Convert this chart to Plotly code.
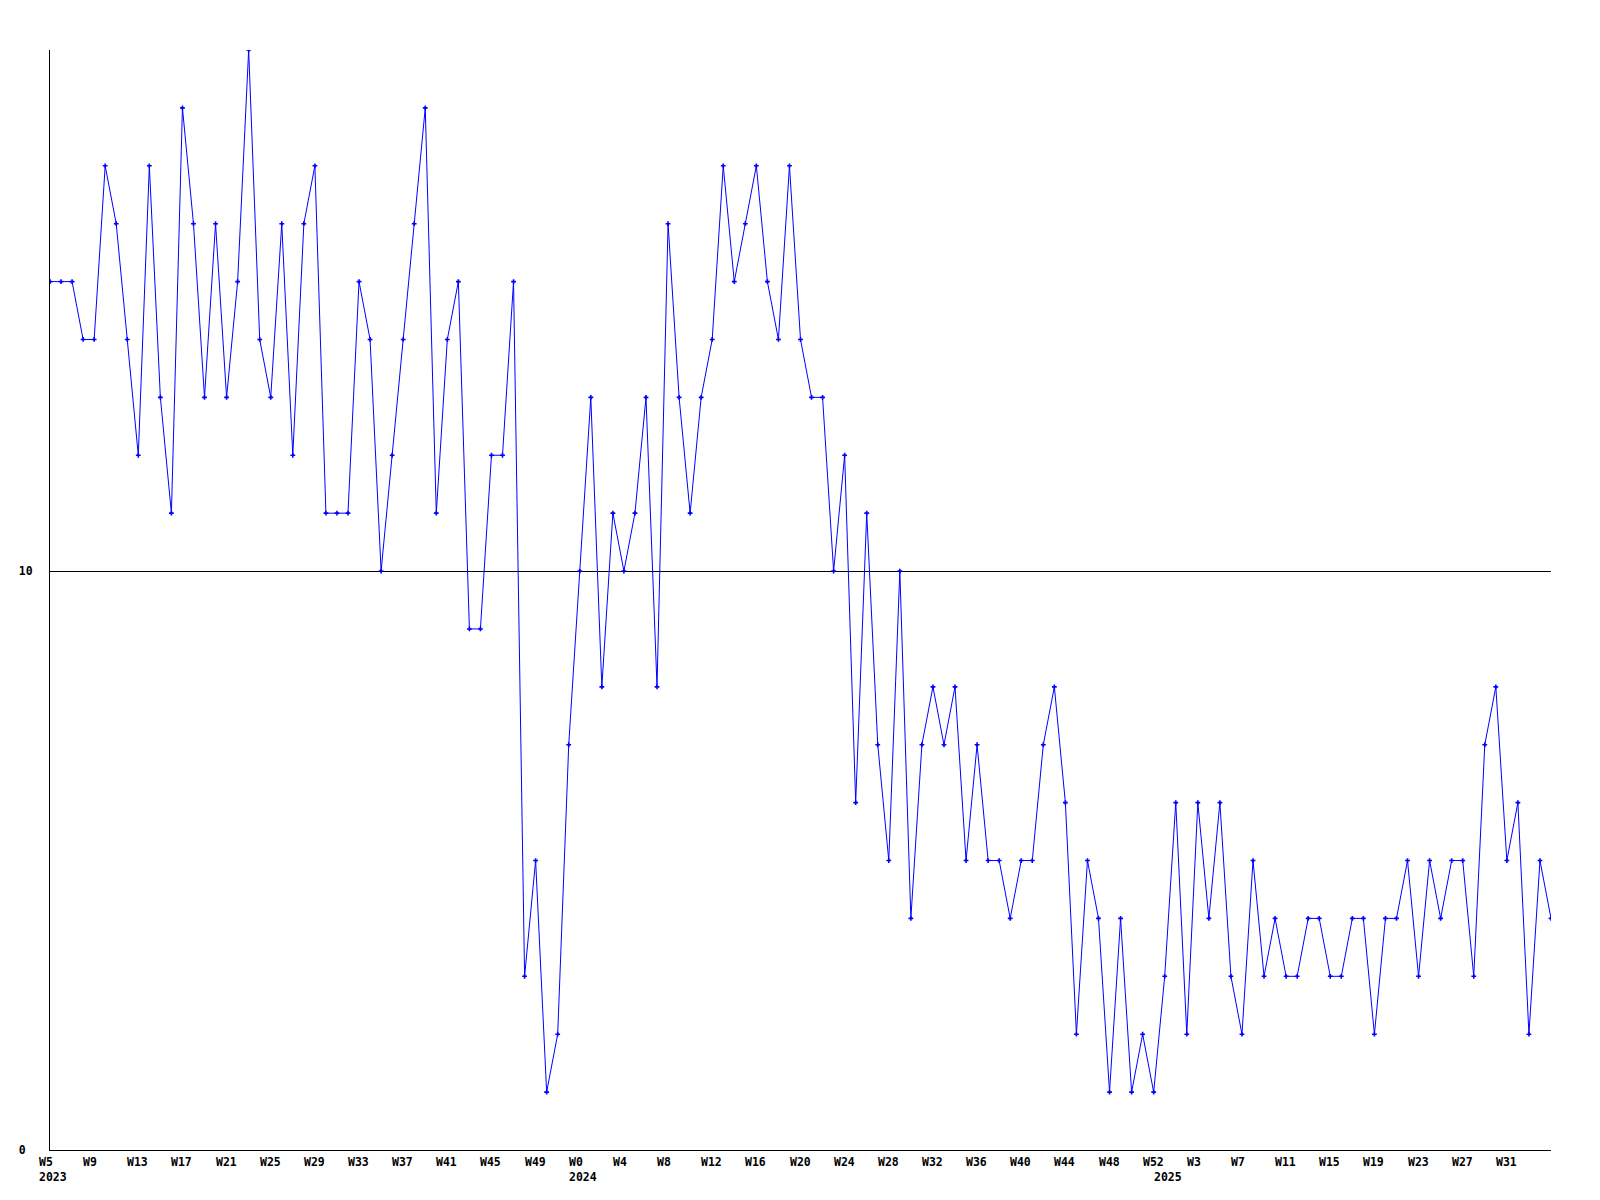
import plotly.graph_objects as go

# Week categories (year, week number) for each weekly point
weeks_2023 = list(range(5, 53))
weeks_2024 = list(range(0, 53))
weeks_2025 = list(range(0, 36))
years = [2023] * len(weeks_2023) + [2024] * len(weeks_2024) + [2025] * len(weeks_2025)
weeks = weeks_2023 + weeks_2024 + weeks_2025
categories = [f"{y}-W{w}" for y, w in zip(years, weeks)]

values = [
    15, 15, 15, 14, 14, 17, 16, 14, 12, 17, 13, 11, 18, 16, 13, 16, 13, 15, 19, 14,
    13, 16, 12, 16, 17, 11, 11, 11, 15, 14, 10, 12, 14, 16, 18, 11, 14, 15, 9, 9,
    12, 12, 15, 3, 5, 1, 2, 7, 10, 13, 8, 11, 10, 11, 13, 8, 16, 13, 11, 13,
    14, 17, 15, 16, 17, 15, 14, 17, 14, 13, 13, 10, 12, 6, 11, 7, 5, 10, 4, 7,
    8, 7, 8, 5, 7, 5, 5, 4, 5, 5, 7, 8, 6, 2, 5, 4, 1, 4, 1, 2,
    1, 3, 6, 2, 6, 4, 6, 3, 2, 5, 3, 4, 3, 3, 4, 4, 3, 3, 4, 4,
    2, 4, 4, 5, 3, 5, 4, 5, 5, 3, 7, 8, 5, 6, 2, 5, 4,
]

y_tick_vals = [0, 10]
y_tick_text = ["0\u00a0", "10"]

font = dict(family="DejaVu Sans Mono", size=11.5, color="black", weight="bold")

# x labels: every 4th week, plus year label on the first week of each year
annotations = []
seen_years = set()
for i, (y, w) in enumerate(zip(years, weeks)):
    first_of_year = y not in seen_years
    seen_years.add(y)
    text = None
    if i % 4 == 0 and i <= 132:
        text = f"W{w}<br>{y}" if first_of_year else f"W{w}"
    elif first_of_year:
        text = f"\u00a0<br>{y}"
    if text is not None:
        annotations.append(dict(
            x=categories[i], xref="x", y=0, yref="paper",
            xanchor="left", yanchor="top", align="left",
            xshift=-13, yshift=-3, showarrow=False,
            text=text, font=font,
        ))

fig = go.Figure()
fig.add_trace(go.Scatter(
    x=categories, y=values, mode="lines+markers",
    line=dict(color="#0000FF", width=1),
    marker=dict(symbol="cross", size=4, color="#0000FF"),
    showlegend=False, hoverinfo="x+y",
))

fig.update_layout(
    width=1600, height=1200,
    paper_bgcolor="white", plot_bgcolor="white",
    margin=dict(l=42, r=57, t=42, b=58, autoexpand=False),
    xaxis=dict(
        type="category", range=[0, len(categories) - 1],
        showticklabels=False, automargin=False,
        showgrid=False, zeroline=False,
        showline=True, linecolor="black", linewidth=1, ticks="",
    ),
    yaxis=dict(
        range=[0, 19], tickmode="array", tickvals=y_tick_vals, ticktext=y_tick_text,
        automargin=False,
        showgrid=True, gridcolor="black", gridwidth=1,
        zeroline=False, showline=True, linecolor="black", linewidth=1,
        ticks="", ticklabelstandoff=14, tickfont=font,
    ),
    annotations=annotations,
)

fig.write_html("out.html")
